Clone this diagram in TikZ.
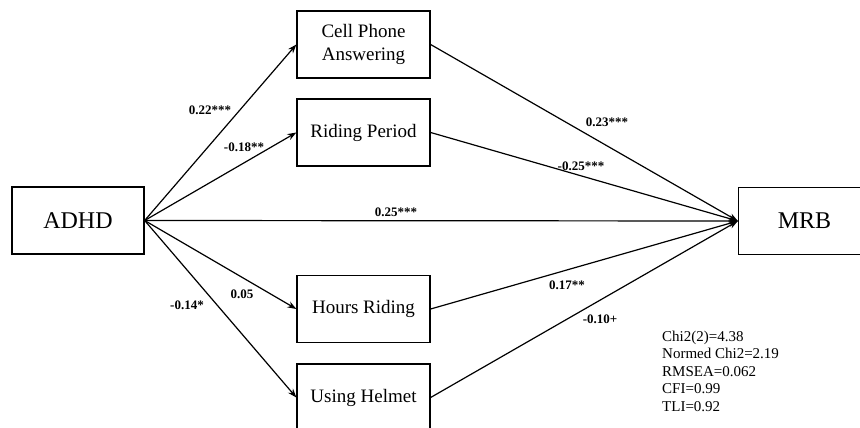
\documentclass[tikz,border=0pt]{standalone}
\usepackage{fontspec}
\setmainfont{Liberation Serif}
\usepackage{tikz}
\usetikzlibrary{arrows.meta}

\begin{document}
\begin{tikzpicture}[x=1pt,y=-1pt,
    var/.style={draw,line width=1.3pt,minimum width=133pt,minimum height=67pt,inner sep=0pt,align=center,font=\fontsize{19}{23}\selectfont},
    outer/.style={var,minimum width=132pt,font=\fontsize{24}{26}\selectfont},
    arr/.style={line width=1.2pt,-{Stealth[length=9pt,width=6.5pt]}},
    coef/.style={font=\bfseries\fontsize{13}{15}\selectfont,inner sep=1pt}]
        \useasboundingbox (0,0) rectangle (860,428);

        \node[outer] (adhd) at (78,220.5) {ADHD};
        \node[outer] (mrb) at (804.5,221) {MRB};
        \node[var] (cell) at (363.5,44.5) {Cell Phone\\Answering};
        \node[var] (period) at (363.5,132.5) {Riding Period};
        \node[var] (hours) at (363.5,309) {Hours Riding};
        \node[var] (helmet) at (363.5,397.5) {Using Helmet};

        \draw[arr] (adhd.east) -- (cell.west);
        \draw[arr] (adhd.east) -- (period.west);
        \draw[arr] (adhd.east) -- (mrb.west);
        \draw[arr] (adhd.east) -- (hours.west);
        \draw[arr] (adhd.east) -- (helmet.west);
        \draw[arr] (cell.east) -- (mrb.west);
        \draw[arr] (period.east) -- (mrb.west);
        \draw[arr] (hours.east) -- (mrb.west);
        \draw[arr] (helmet.east) -- (mrb.west);

        \node[coef] (c1) at (210,110) {0.22***};
        \node[coef] (c2) at (244,147) {-0.18**};
        \node[coef] (c3) at (396,212) {0.25***};
        \node[coef] (c4) at (242,294) {0.05};
        \node[coef] (c5) at (187,305) {-0.14*};
        \node[coef] (c6) at (607,122) {0.23***};
        \node[coef] (c7) at (581,166) {-0.25***};
        \node[coef] (c8) at (567,285) {0.17**};
        \node[coef] (c9) at (600,319) {-0.10+};

        \node[anchor=west,align=left,inner sep=0pt,font=\fontsize{15}{17.5}\selectfont] (fit) at (662,371)
            {Chi2(2)=4.38\\Normed Chi2=2.19\\RMSEA=0.062\\CFI=0.99\\TLI=0.92};
    \end{tikzpicture}
\end{document}
